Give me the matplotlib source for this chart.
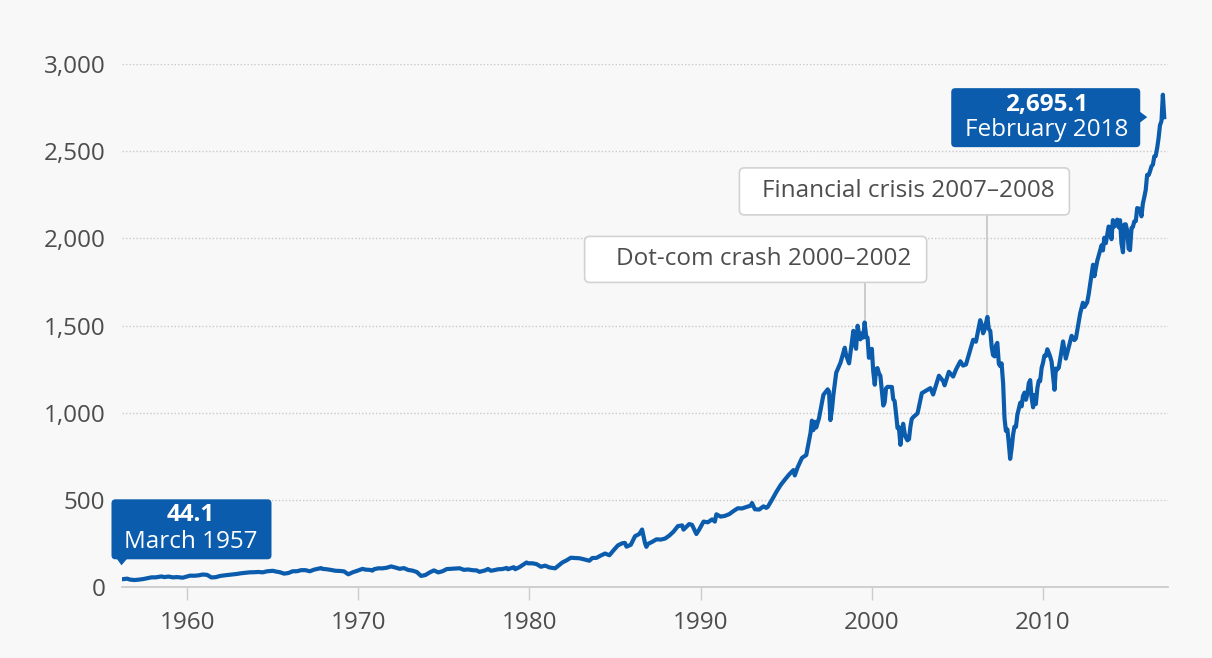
import matplotlib.pyplot as plt
from matplotlib.patches import FancyBboxPatch, Polygon
from matplotlib.transforms import IdentityTransform
from matplotlib.ticker import FuncFormatter

# S&P 500 level, sampled points along the curve (x in decimal years on the chart axis)
years = [
    1956.17, 1956.42, 1956.50, 1956.67, 1956.92, 1957.17, 1957.42, 1957.67, 1957.92,
    1958.17, 1958.50, 1958.67, 1958.92, 1959.17, 1959.42, 1959.75, 1959.92,
    1960.17, 1960.42, 1960.67, 1960.92, 1961.17, 1961.42, 1961.67, 1961.92,
    1962.17, 1962.42, 1962.67, 1962.92, 1963.17, 1963.42, 1963.67, 1963.92,
    1964.17, 1964.42, 1964.67, 1964.92, 1965.00, 1965.17, 1965.42, 1965.67, 1965.92,
    1966.17, 1966.42, 1966.67, 1966.92, 1967.17, 1967.42, 1967.83, 1967.92,
    1968.17, 1968.42, 1968.67, 1968.92, 1969.17, 1969.42, 1969.67, 1969.92,
    1970.25, 1970.42, 1970.67, 1970.83, 1970.92, 1971.17, 1971.42, 1971.67, 1971.92,
    1972.00, 1972.17, 1972.42, 1972.67, 1972.92, 1973.17, 1973.42, 1973.67, 1973.92,
    1974.17, 1974.42, 1974.67, 1974.92, 1975.17, 1975.42, 1975.67, 1975.92,
    1976.17, 1976.42, 1976.67, 1976.92, 1977.08, 1977.42, 1977.58, 1977.75, 1977.92,
    1978.17, 1978.42, 1978.67, 1978.75, 1978.92, 1979.08, 1979.17, 1979.42, 1979.83, 1979.92,
    1980.17, 1980.42, 1980.67, 1980.92, 1981.17, 1981.50, 1981.67, 1981.92,
    1982.17, 1982.42, 1982.67, 1982.92, 1983.17, 1983.50, 1983.67, 1983.92,
    1984.17, 1984.42, 1984.67, 1984.92, 1985.17, 1985.42, 1985.58, 1985.67, 1985.92,
    1986.17, 1986.42, 1986.58, 1986.75, 1986.83, 1986.92,
    1987.17, 1987.42, 1987.67, 1987.92, 1988.17, 1988.42, 1988.67, 1988.92,
    1989.00, 1989.33, 1989.50, 1989.75, 1989.92, 1990.17, 1990.42, 1990.67, 1990.83, 1990.92,
    1991.17, 1991.42, 1991.67, 1991.92, 1992.17, 1992.42, 1992.67, 1992.92,
    1993.00, 1993.17, 1993.42, 1993.67, 1993.83, 1993.92,
    1994.17, 1994.42, 1994.67, 1994.92, 1995.17, 1995.42, 1995.50, 1995.67, 1995.92,
    1996.17, 1996.42, 1996.50, 1996.58, 1996.67, 1996.75, 1996.92,
    1997.17, 1997.42, 1997.50, 1997.58, 1997.67, 1997.75, 1997.92,
    1998.17, 1998.42, 1998.50, 1998.67, 1998.92,
    1999.00, 1999.08, 1999.17, 1999.25, 1999.33, 1999.42, 1999.50, 1999.58, 1999.67,
    1999.75, 1999.83, 1999.92,
    2000.00, 2000.08, 2000.17, 2000.25, 2000.33, 2000.42, 2000.50, 2000.58, 2000.67,
    2000.75, 2000.83, 2000.92,
    2001.17, 2001.25, 2001.33, 2001.42, 2001.50, 2001.58, 2001.67, 2001.75, 2001.83, 2001.92,
    2002.00, 2002.08, 2002.17, 2002.25, 2002.33, 2002.42, 2002.67, 2002.92,
    2003.17, 2003.42, 2003.58, 2003.92, 2004.17, 2004.25, 2004.50, 2004.75, 2004.92,
    2005.17, 2005.33, 2005.50, 2005.92,
    2006.08, 2006.33, 2006.42, 2006.50, 2006.58, 2006.75, 2006.83, 2006.92,
    2007.00, 2007.08, 2007.17, 2007.25, 2007.33, 2007.42, 2007.50, 2007.58, 2007.67,
    2007.75, 2007.83, 2007.92,
    2008.00, 2008.08, 2008.17, 2008.25, 2008.33, 2008.42, 2008.50, 2008.58, 2008.67,
    2008.75, 2008.83, 2008.92,
    2009.00, 2009.08, 2009.17, 2009.25, 2009.33, 2009.42, 2009.50, 2009.58, 2009.67,
    2009.75, 2009.83, 2009.92,
    2010.00, 2010.08, 2010.17, 2010.25, 2010.33, 2010.42, 2010.50, 2010.58, 2010.67,
    2010.75, 2010.83, 2010.92,
    2011.17, 2011.33, 2011.67, 2011.83, 2011.92,
    2012.17, 2012.33, 2012.42, 2012.58, 2012.67, 2012.92,
    2013.00, 2013.17, 2013.42, 2013.50, 2013.58, 2013.67, 2013.83, 2013.92,
    2014.00, 2014.08, 2014.17, 2014.25, 2014.33, 2014.42, 2014.50, 2014.58, 2014.67,
    2014.75, 2014.83, 2014.92,
    2015.00, 2015.08, 2015.17, 2015.25, 2015.33, 2015.42, 2015.50, 2015.58, 2015.67,
    2015.75, 2015.83, 2015.92,
    2016.00, 2016.08, 2016.17, 2016.25, 2016.33, 2016.42, 2016.50, 2016.58, 2016.67,
    2016.75, 2016.83, 2016.92,
    2017.00, 2017.08,
]

index_values = [
    44.1, 47.4, 47.9, 42.4, 40.0, 42.1, 45.2, 50.1, 55.2,
    55.4, 60.5, 56.9, 59.9, 55.3, 56.9, 53.4, 58.1,
    65.1, 64.6, 66.7, 71.6, 69.6, 54.8, 56.3, 63.1,
    66.6, 69.4, 71.7, 75.0, 79.0, 81.7, 84.2, 84.8,
    86.2, 84.1, 90.0, 92.4, 92.9, 89.2, 84.7, 76.6, 80.3,
    90.2, 90.6, 96.7, 96.5, 90.2, 99.6, 108.4, 103.9,
    101.5, 97.7, 93.1, 92.1, 89.6, 72.7, 84.2, 92.2,
    104.0, 99.7, 98.3, 94.0, 102.1, 107.2, 107.1, 110.6, 118.1,
    116.0, 111.5, 104.3, 108.4, 97.6, 94.0, 86.0, 63.5, 68.6,
    83.4, 95.2, 83.9, 90.2, 102.8, 104.3, 105.2, 107.5,
    98.4, 100.5, 96.5, 95.1, 87.0, 95.5, 103.3, 93.2, 96.1,
    101.6, 102.9, 109.3, 101.8, 107.9, 113.7, 102.1, 114.2, 140.5, 135.8,
    136.0, 131.2, 116.2, 122.6, 112.0, 107.1, 120.4, 140.6,
    153.0, 168.1, 166.1, 164.9, 159.2, 150.7, 166.1, 167.2,
    180.7, 191.9, 182.1, 211.3, 238.9, 250.8, 252.9, 231.3, 242.2,
    291.7, 304.0, 329.8, 251.8, 230.3, 247.1,
    258.9, 273.5, 271.9, 277.7, 294.9, 318.0, 349.2, 353.4,
    329.1, 361.2, 356.2, 304.0, 330.2, 375.2, 371.2, 387.9, 375.2, 417.1,
    403.7, 408.1, 417.8, 435.7, 451.7, 450.5, 458.9, 466.5,
    481.6, 445.8, 444.3, 462.7, 453.7, 459.3,
    500.7, 544.8, 584.4, 615.9, 645.5, 670.6, 639.9, 687.3, 740.7,
    757.1, 885.1, 954.3, 899.5, 947.3, 914.6, 970.4,
    1101.8, 1133.8, 1120.7, 957.3, 1017.0, 1098.7, 1229.2,
    1286.4, 1372.7, 1328.7, 1282.7, 1469.3,
    1394.5, 1366.4, 1498.6, 1452.4, 1420.6, 1454.6, 1430.8, 1517.7, 1436.5,
    1429.4, 1315.0, 1320.3,
    1366.0, 1239.9, 1160.3, 1249.5, 1255.8, 1224.4, 1211.2, 1133.6, 1040.9,
    1059.8, 1139.5, 1148.1,
    1147.4, 1076.9, 1067.1, 989.8, 911.6, 916.1, 815.3, 885.8, 936.3, 879.8,
    855.7, 841.2, 848.2, 916.9, 963.6, 974.5, 996.0, 1111.9,
    1126.2, 1140.8, 1104.2, 1211.9, 1180.6, 1156.9, 1234.2, 1207.0, 1248.3,
    1294.8, 1270.1, 1276.7, 1418.3,
    1406.8, 1530.6, 1503.4, 1455.3, 1474.0, 1549.4, 1481.1, 1468.4,
    1378.6, 1330.6, 1322.7, 1385.6, 1400.4, 1280.0, 1267.4, 1282.8, 1166.4,
    968.8, 896.2, 903.3,
    825.9, 735.1, 797.9, 872.8, 919.1, 919.3, 987.5, 1020.6, 1057.1,
    1036.2, 1095.6, 1115.1,
    1073.9, 1104.5, 1169.4, 1186.7, 1089.4, 1030.7, 1101.6, 1049.3, 1141.2,
    1183.3, 1180.6, 1257.6,
    1286.1, 1327.2, 1325.8, 1363.6, 1345.2, 1320.6, 1292.3, 1218.9, 1131.4,
    1253.3, 1247.0, 1257.6,
    1408.5, 1310.3, 1440.7, 1416.2, 1426.2,
    1569.2, 1630.7, 1606.3, 1633.0, 1681.6, 1848.4,
    1782.6, 1872.3, 1960.2, 1930.7, 2003.4, 1972.3, 2067.6, 2058.9,
    1995.0, 2104.5, 2067.9, 2085.5, 2107.4, 2063.1, 2103.8, 1972.2, 1920.0,
    2079.4, 2080.4, 2043.9,
    1940.2, 1932.2, 2059.7, 2065.3, 2097.0, 2098.9, 2173.6, 2171.0, 2168.3,
    2126.2, 2198.8, 2238.8,
    2278.9, 2363.6, 2362.7, 2384.2, 2411.8, 2423.4, 2470.3, 2471.7, 2519.4,
    2575.3, 2647.6, 2673.6,
    2823.8, 2695.1,
]

decade_ticks = [1960, 1970, 1980, 1990, 2000, 2010]
value_ticks = [0, 500, 1000, 1500, 2000, 2500, 3000]

first_label = ('44.1', 'March 1957')
last_label = ('2,695.1', 'February 2018')
dotcom_label = 'Dot-com crash 2000–2002'
dotcom_span = (1995, 2002)
crisis_label = 'Financial crisis 2007–2008'
crisis_span = (2005, 2008)

BLUE = '#0b5cad'
GREY_TEXT = '#4d4d4d'
FS = 17.5
W, H = 1212, 658

plt.rcParams['font.family'] = ['Open Sans', 'DejaVu Sans']

fig = plt.figure(figsize=(W / 100, H / 100), dpi=100, facecolor='#f8f8f8')
ax = fig.add_axes([122 / W, 1 - 587 / H, (1168 - 122) / W, (587 - 64) / H])
ax.set_facecolor('none')

ax.plot(years, index_values, color=BLUE, lw=3, solid_joinstyle='round', zorder=3)

ax.set_xlim(1956.2, 2017.3)
ax.set_ylim(0, 3000)

ax.set_yticks(value_ticks)
ax.yaxis.set_major_formatter(FuncFormatter(lambda v, _: f'{v:,.0f}'))
ax.set_xticks(decade_ticks)
ax.tick_params(axis='y', length=0, pad=12, labelsize=FS, labelcolor=GREY_TEXT)
ax.tick_params(axis='x', length=9, width=1, color='#cccccc', pad=8,
               labelsize=FS, labelcolor=GREY_TEXT)

ax.yaxis.grid(True, linestyle=(0, (1, 1.5)), color='#c9c9c9', lw=1)
ax.set_axisbelow(True)
for side in ('top', 'right', 'left'):
    ax.spines[side].set_visible(False)
ax.spines['bottom'].set_color('#cccccc')
ax.spines['bottom'].set_linewidth(1.3)

px = IdentityTransform()  # display pixels, origin bottom left


def to_px(x, y):
    return ax.transData.transform((x, y))


def blue_box(left, bottom, width, height, pointer, value, date, cx, y_val, y_date):
    fig.patches.append(FancyBboxPatch((left, bottom), width, height,
                                      boxstyle='round,pad=0,rounding_size=4',
                                      fc=BLUE, ec='none', transform=px, zorder=5))
    fig.patches.append(Polygon(pointer, closed=True, fc=BLUE, ec='none',
                               transform=px, zorder=5))
    fig.text(cx, y_val, value, transform=px, ha='center', va='center',
             color='white', fontsize=FS, fontweight='bold', zorder=6)
    fig.text(cx, y_date, date, transform=px, ha='center', va='center',
             color='white', fontsize=FS, zorder=6)


def grey_box(peak_x, peak_y, left, right, bottom, top, text, text_x):
    fig.patches.append(FancyBboxPatch((left, bottom), right - left, top - bottom,
                                      boxstyle='round,pad=0,rounding_size=5',
                                      fc='white', ec='#d2d2d2', lw=1.2,
                                      transform=px, zorder=5))
    fig.lines.append(plt.Line2D([peak_x, peak_x], [peak_y + 3, bottom],
                                color='#c4c4c4', lw=1.2, transform=px, zorder=4))
    fig.text(text_x, (bottom + top) / 2, text, transform=px, ha='center',
             va='center', color=GREY_TEXT, fontsize=FS, zorder=6)


# first value: box above the start of the line, pointer down
x0, y0 = to_px(years[0], index_values[0])
blue_box(x0 - 10, y0 + 20, 160, 60,
         [(x0 - 5, y0 + 21), (x0 + 6, y0 + 21), (x0, y0 + 14)],
         first_label[0], first_label[1], x0 + 69, y0 + 64, y0 + 37)

# last value: box left of the end of the line, pointer right
x1, y1 = to_px(years[-1], index_values[-1])
blue_box(x1 - 213, y1 - 30, 189, 59,
         [(x1 - 25, y1 + 6), (x1 - 25, y1 - 6), (x1 - 17, y1)],
         last_label[0], last_label[1], x1 - 118, y1 + 12, y1 - 13)


def peak_in(span):
    pts = [(v, t) for t, v in zip(years, index_values) if span[0] <= t <= span[1]]
    v, t = max(pts)
    return to_px(t, v)


xp, yp = peak_in(dotcom_span)
grey_box(xp, yp, xp - 280, xp + 62, yp + 40, yp + 86, dotcom_label, xp - 101)

xq, yq = peak_in(crisis_span)
grey_box(xq, yq, xq - 248, xq + 82, yq + 102, yq + 149, crisis_label, xq - 79)

fig.savefig('out.png', dpi=100, facecolor=fig.get_facecolor())
